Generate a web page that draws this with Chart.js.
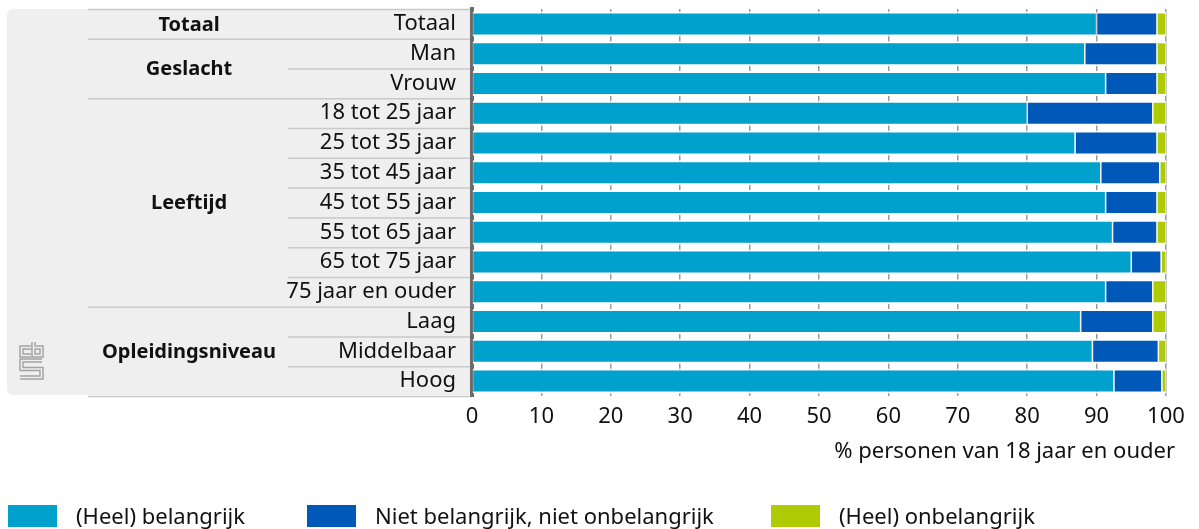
<!DOCTYPE html>
<html><head><meta charset="utf-8">
<script src="https://cdn.jsdelivr.net/npm/chart.js@4.4.1/dist/chart.umd.min.js"></script>
<style>
html,body{margin:0;padding:0;background:#fff;}
#wrap{position:relative;width:1199px;height:529px;overflow:hidden;}
#c{position:absolute;left:0;top:0;}
#legend{position:absolute;left:0;top:0;width:1199px;height:529px;pointer-events:none;font-family:'Noto Sans',sans-serif;font-size:22px;color:#111;}
.li-box{position:absolute;}
.li-text{position:absolute;white-space:nowrap;line-height:22px;}
</style></head><body>
<div id="wrap"><canvas id="c" width="1199" height="529"></canvas><div id="legend"></div></div>
<script>
// ---- data ----
const categories = ['Totaal','Man','Vrouw','18 tot 25 jaar','25 tot 35 jaar','35 tot 45 jaar','45 tot 55 jaar','55 tot 65 jaar','65 tot 75 jaar','75 jaar en ouder','Laag','Middelbaar','Hoog'];
const groupNames = ['Totaal','Geslacht','Leeftijd','Opleidingsniveau'];
const groupSizes = [1, 2, 7, 3];
const seriesNames = ['(Heel) belangrijk','Niet belangrijk, niet onbelangrijk','(Heel) onbelangrijk'];
const belangrijk   = [90.0, 88.3, 91.3, 80.0, 86.9, 90.6, 91.3, 92.3, 95.0, 91.3, 87.7, 89.4, 92.5];
const neutraal     = [ 8.7, 10.4,  7.4, 18.1, 11.8,  8.5,  7.4,  6.4,  4.3,  6.8, 10.4,  9.5,  6.9];
const onbelangrijk = [ 1.3,  1.3,  1.3,  1.9,  1.3,  0.9,  1.3,  1.3,  0.7,  1.9,  1.9,  1.1,  0.6];
const xTickValues = [0,10,20,30,40,50,60,70,80,90,100];
const xTitle = '% personen van 18 jaar en ouder';

// ---- styles ----
const colors = ['#00a1cd','#0058b8','#afcb05'];
const FONT = "'Noto Sans', sans-serif";
const TEXT = '#111';
Chart.defaults.font.family = FONT;

const barBorder = {top:2, bottom:2, left:0.75, right:0.75};

const panelPlugin = {
  id: 'panel',
  beforeDraw(chart) {
    const {ctx, chartArea: ca, scales: {y}} = chart;
    ctx.save();
    // grey panel
    const L = 7, R = ca.left, T = ca.top, B = ca.bottom - 1, r = 6;
    ctx.fillStyle = '#efefef';
    ctx.beginPath();
    ctx.moveTo(L + r, T); ctx.lineTo(R, T); ctx.lineTo(R, B); ctx.lineTo(L + r, B);
    ctx.arcTo(L, B, L, B - r, r); ctx.lineTo(L, T + r); ctx.arcTo(L, T, L + r, T, r);
    ctx.closePath(); ctx.fill();
    // boundaries
    const n = categories.length;
    const bounds = [];
    for (let i = 0; i <= n; i++) {
      if (i === 0) bounds.push(ca.top);
      else if (i === n) bounds.push(ca.bottom);
      else bounds.push((y.getPixelForValue(i - 1) + y.getPixelForValue(i)) / 2);
    }
    const groupEdges = [0];
    groupSizes.forEach(s => groupEdges.push(groupEdges[groupEdges.length - 1] + s));
    ctx.strokeStyle = '#c9c9c9';
    ctx.lineWidth = 1.5;
    bounds.forEach((yy, i) => {
      const x0 = groupEdges.includes(i) ? 88 : 288;
      ctx.beginPath(); ctx.moveTo(x0, yy + 0.5); ctx.lineTo(ca.left, yy + 0.5); ctx.stroke();
    });
    // group labels
    ctx.fillStyle = TEXT;
    ctx.font = "bold 20px " + FONT;
    ctx.textAlign = 'center';
    ctx.textBaseline = 'middle';
    groupNames.forEach((g, k) => {
      const yc = (bounds[groupEdges[k]] + bounds[groupEdges[k + 1]]) / 2;
      ctx.fillText(g, 189, yc + 1);
    });
    // cbs logo (outlined strokes)
    const paths = [
      [[31,347.5],[21.5,347.5],[21.5,355.5],[31,355.5]],
      [[33.5,342],[33.5,355.5],[41.5,355.5],[41.5,347.5],[33.5,347.5]],
      [[42,360.5],[21.5,360.5],[21.5,369],[41.5,369],[41.5,377.5],[20,377.5]]
    ];
    const drawPaths = () => paths.forEach(p => {
      ctx.beginPath(); ctx.moveTo(p[0][0], p[0][1]);
      for (let j = 1; j < p.length; j++) ctx.lineTo(p[j][0], p[j][1]);
      ctx.stroke();
    });
    ctx.lineJoin = 'miter'; ctx.lineCap = 'butt';
    ctx.strokeStyle = '#a3a3a3'; ctx.lineWidth = 4.5; drawPaths();
    ctx.strokeStyle = '#efefef'; ctx.lineWidth = 1.6; drawPaths();
    ctx.restore();
  },
  afterDraw(chart) {
    const {ctx, chartArea: ca} = chart;
    ctx.save();
    ctx.fillStyle = TEXT;
    ctx.font = "22px " + FONT;
    ctx.textAlign = 'right';
    ctx.textBaseline = 'alphabetic';
    ctx.fillText(xTitle, ca.right + 9, ca.bottom + 62);
    ctx.restore();
  }
};

const chart = new Chart(document.getElementById('c'), {
  type: 'bar',
  data: {
    labels: categories,
    datasets: [belangrijk, neutraal, onbelangrijk].map((d, i) => ({
      label: seriesNames[i],
      data: d,
      backgroundColor: colors[i],
      borderColor: '#ffffff',
      borderWidth: barBorder,
      borderSkipped: false,
      barPercentage: 0.84,
      categoryPercentage: 1.0
    }))
  },
  options: {
    indexAxis: 'y',
    responsive: false,
    animation: false,
    devicePixelRatio: 1,
    layout: {padding: {top: 9, right: 33, bottom: 0, left: 0}},
    plugins: {legend: {display: false}, tooltip: {enabled: false}},
    scales: {
      x: {
        stacked: true, min: 0, max: 100,
        afterBuildTicks(scale) { scale.ticks = xTickValues.map(v => ({value: v})); },
        afterFit(scale) { scale.height = 133; scale.paddingLeft = 0; scale.paddingRight = 0; },
        grid: {color: '#9a9a9a', lineWidth: 1.5, drawTicks: false},
        border: {display: false},
        ticks: {color: TEXT, font: {size: 22}, padding: 8, maxRotation: 0, autoSkip: false}
      },
      y: {
        stacked: true,
        z: 1,
        afterFit(scale) { scale.width = 472; scale.paddingTop = 0; scale.paddingBottom = 0; },
        grid: {display: false, drawTicks: false},
        border: {display: true, color: '#6b6b6b', width: 4},
        ticks: {color: TEXT, font: {size: 22}, padding: 16, crossAlign: 'near', autoSkip: false}
      }
    }
  },
  plugins: [panelPlugin]
});

// HTML legend built from the chart's datasets
const legendLefts = [8, 307, 771];
const legendEl = document.getElementById('legend');
chart.data.datasets.forEach((ds, i) => {
  const box = document.createElement('div');
  box.className = 'li-box';
  box.style.cssText = `left:${legendLefts[i]}px;top:505px;width:49px;height:22px;background:${ds.backgroundColor};`;
  const t = document.createElement('div');
  t.className = 'li-text';
  t.style.cssText = `left:${legendLefts[i] + 68}px;top:504px;`;
  t.textContent = ds.label;
  legendEl.appendChild(box); legendEl.appendChild(t);
});
</script>
</body></html>
